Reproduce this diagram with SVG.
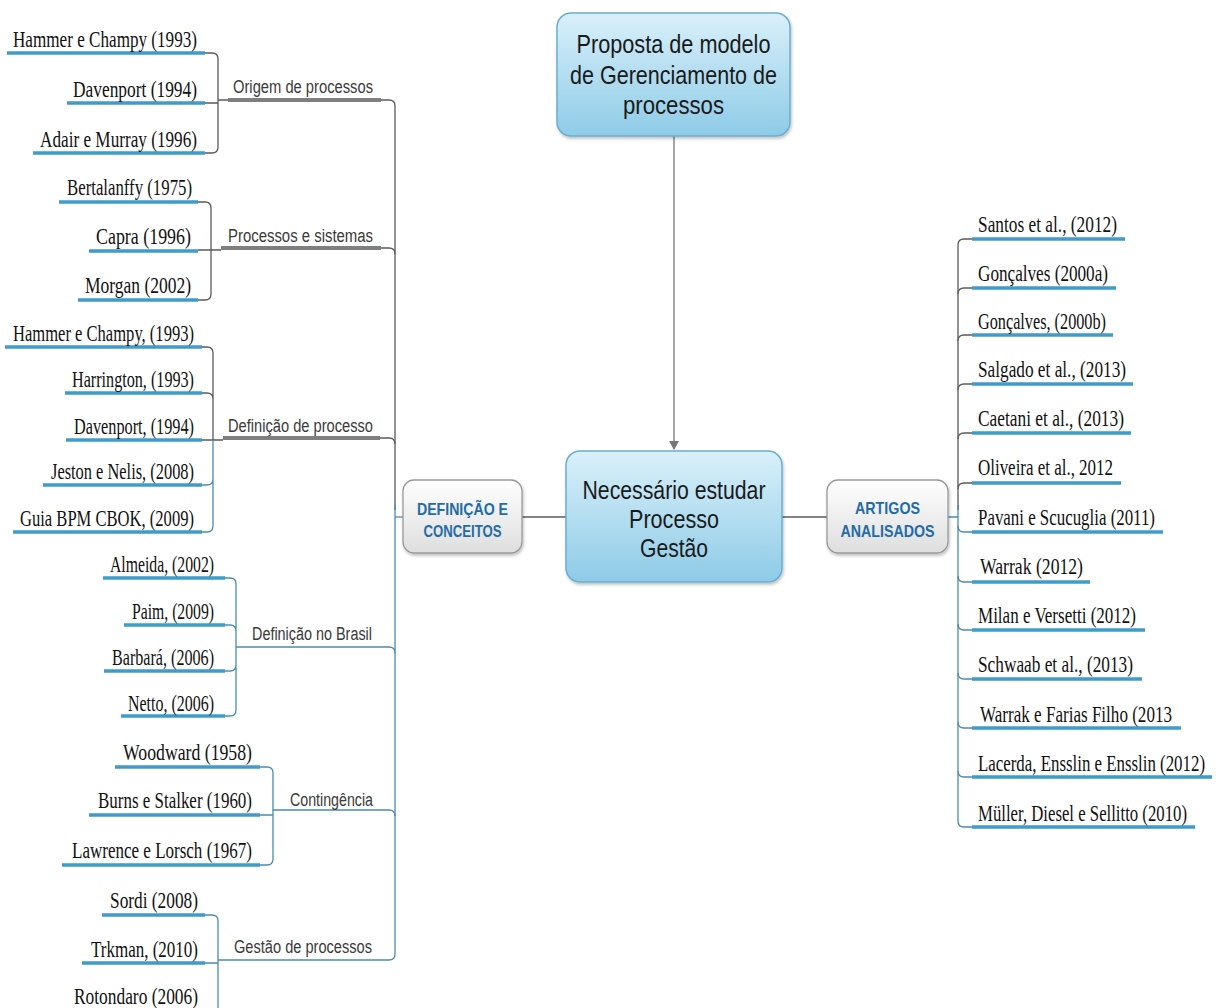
<svg xmlns="http://www.w3.org/2000/svg" width="1216" height="1008" viewBox="0 0 1216 1008">
<style>
.leaf{font-family:"Liberation Serif","Times New Roman",serif;font-size:24px;fill:#111}
.sub{font-family:"Liberation Sans",Arial,sans-serif;font-size:18px;fill:#3a3a3a}
.big{font-family:"Liberation Sans",Arial,sans-serif;font-size:26px;fill:#1a1a1a;text-anchor:middle}
.lbl{font-family:"Liberation Sans",Arial,sans-serif;font-size:17px;font-weight:bold;fill:#1f6ca8;text-anchor:middle}
.ul{stroke:#3e9ccb;stroke-width:3.5;fill:none}
.gr{stroke:#5a5a5a;stroke-width:1.3;fill:none}
.bl{stroke:#4a8cb2;stroke-width:1.3;fill:none}
.sul{stroke:#7f7f7f;stroke-width:4;fill:none}
.main{fill:url(#gBlue);stroke:#6aaed0;stroke-width:1.5;filter:url(#sh)}
.cat{fill:url(#gGray);stroke:#9a9a9a;stroke-width:1.3;filter:url(#sh)}
</style>
<defs>
<linearGradient id="gBlue" x1="0" y1="0" x2="0" y2="1"><stop offset="0" stop-color="#d9f0fa"/><stop offset="1" stop-color="#8ecbe7"/></linearGradient>
<linearGradient id="gGray" x1="0" y1="0" x2="0" y2="1"><stop offset="0" stop-color="#ffffff"/><stop offset="1" stop-color="#dedede"/></linearGradient>
<filter id="sh" x="-10%" y="-10%" width="130%" height="130%"><feDropShadow dx="1" dy="2" stdDeviation="1.5" flood-color="#000" flood-opacity="0.25"/></filter>
<marker id="arr" markerWidth="10" markerHeight="10" refX="8" refY="5" orient="auto" markerUnits="userSpaceOnUse"><path d="M0,0 L9,5 L0,10 Z" fill="#777"/></marker>
</defs>
<rect width="1216" height="1008" fill="#fff"/>

<g id="connectors">
  <path d="M674,136 V449" stroke="#888" stroke-width="1.5" fill="none" marker-end="url(#arr)"/>
  <path d="M522,517 H566" class="gr"/>
  <path d="M782,517 H827" class="gr"/>
  <path d="M381,100 H389 Q395,100 395,106 V510" class="gr"/>
  <path d="M381,248 H389 Q395,248 395,254" class="gr"/>
  <path d="M380,438 H389 Q395,438 395,444" class="gr"/>
  <path d="M395,505 V954 Q395,960 389,960 H218" class="bl"/>
  <path d="M395,517 H403" class="bl"/>
  <path d="M395,653 Q395,647 389,647 H236" class="bl"/>
  <path d="M395,816 Q395,810 389,810 H273" class="bl"/>
  <path d="M228,100 H381" class="sul"/>
  <path d="M221,248 H381" class="sul"/>
  <path d="M223,438 H380" class="sul"/>
  <path d="M205,53 H212 Q218,53 218,59 V147 Q218,153 212,153 H205 M205,103 H218 M218,100 H228" class="gr"/>
  <path d="M198,202 H205 Q211,202 211,208 V294 Q211,300 205,300 H198 M198,250 H221" class="gr"/>
  <path d="M202,347 H207 Q213,347 213,353 V440 M202,393 H207 Q213,393 213,399 M202,440 H223" class="gr"/>
  <path d="M213,440 V526 Q213,532 207,532 H202 M202,485 H207 Q213,485 213,479" class="bl"/>
  <path d="M225,578 H230 Q236,578 236,584 V710 Q236,716 230,716 H225 M225,625 H230 Q236,625 236,631 M225,671 H230 Q236,671 236,665" class="bl"/>
  <path d="M260,767 H267 Q273,767 273,773 V859 Q273,865 267,865 H260 M260,815 H273" class="bl"/>
  <path d="M205,915 H212 Q218,915 218,921 V1008 M205,963 H218" class="bl"/>
  <path d="M958,510 V245 Q958,239 964,239 H972" class="gr"/>
  <path d="M958,294 Q958,288 964,288 H972 M958,341 Q958,335 964,335 H972 M958,390 Q958,384 964,384 H972 M958,439 Q958,433 964,433 H972 M958,489 Q958,483 964,483 H972" class="gr"/>
  <path d="M948,517 H958 M958,505 V821 Q958,827 964,827 H972" class="bl"/>
  <path d="M958,526 Q958,532 964,532 H972 M958,576 Q958,582 964,582 H972 M958,624 Q958,630 964,630 H972 M958,673 Q958,679 964,679 H972 M958,722 Q958,728 964,728 H972 M958,771 Q958,777 964,777 H972" class="bl"/>
</g>

<g id="node-proposta">
  <rect x="557" y="13" width="233" height="123" rx="14" class="main"/>
  <text x="673.5" y="53" class="big" textLength="194" lengthAdjust="spacingAndGlyphs">Proposta de modelo</text>
  <text x="673.5" y="84" class="big" textLength="207" lengthAdjust="spacingAndGlyphs">de Gerenciamento de</text>
  <text x="673.5" y="114" class="big" textLength="101" lengthAdjust="spacingAndGlyphs">processos</text>
</g>
<g id="node-necessario">
  <rect x="566" y="451" width="216" height="131" rx="14" class="main"/>
  <text x="674" y="499" class="big" font-size="25" textLength="183" lengthAdjust="spacingAndGlyphs">Necessário estudar</text>
  <text x="674" y="528" class="big" font-size="25" textLength="90" lengthAdjust="spacingAndGlyphs">Processo</text>
  <text x="674" y="557" class="big" font-size="25" textLength="68" lengthAdjust="spacingAndGlyphs">Gestão</text>
</g>
<g id="node-definicao">
  <rect x="403" y="480" width="119" height="73" rx="11" class="cat"/>
  <text x="462.5" y="515" class="lbl" textLength="91" lengthAdjust="spacingAndGlyphs">DEFINIÇÃO E</text>
  <text x="462.5" y="537" class="lbl" textLength="78" lengthAdjust="spacingAndGlyphs">CONCEITOS</text>
</g>
<g id="node-artigos">
  <rect x="827" y="480" width="121" height="73" rx="11" class="cat"/>
  <text x="887.5" y="514" class="lbl" textLength="65" lengthAdjust="spacingAndGlyphs">ARTIGOS</text>
  <text x="887.5" y="537" class="lbl" textLength="94" lengthAdjust="spacingAndGlyphs">ANALISADOS</text>
</g>

<g id="node-origem">
  <text x="233" y="93" class="sub" textLength="140" lengthAdjust="spacingAndGlyphs">Origem de processos</text>
  <path d="M7,53 H205 M67,103 H205 M33,153 H205" class="ul"/>
  <text x="197" y="47" class="leaf" text-anchor="end" textLength="184" lengthAdjust="spacingAndGlyphs">Hammer e Champy (1993)</text>
  <text x="197" y="97" class="leaf" text-anchor="end" textLength="124" lengthAdjust="spacingAndGlyphs">Davenport (1994)</text>
  <text x="197" y="147" class="leaf" text-anchor="end" textLength="157" lengthAdjust="spacingAndGlyphs">Adair e Murray (1996)</text>
</g>
<g id="node-processos">
  <text x="228" y="242" class="sub" textLength="145" lengthAdjust="spacingAndGlyphs">Processos e sistemas</text>
  <path d="M59,202 H198 M89,251 H198 M78,300 H198" class="ul"/>
  <text x="192" y="195" class="leaf" text-anchor="end" textLength="125" lengthAdjust="spacingAndGlyphs">Bertalanffy (1975)</text>
  <text x="191" y="244" class="leaf" text-anchor="end" textLength="95" lengthAdjust="spacingAndGlyphs">Capra (1996)</text>
  <text x="191" y="293" class="leaf" text-anchor="end" textLength="106" lengthAdjust="spacingAndGlyphs">Morgan (2002)</text>
</g>
<g id="node-defprocesso">
  <text x="228" y="432" class="sub" textLength="145" lengthAdjust="spacingAndGlyphs">Definição de processo</text>
  <path d="M5,347 H202 M65,393 H202 M66,440 H202 M43,485 H202 M13,532 H202" class="ul"/>
  <text x="194" y="341" class="leaf" text-anchor="end" textLength="181" lengthAdjust="spacingAndGlyphs">Hammer e Champy, (1993)</text>
  <text x="194" y="387" class="leaf" text-anchor="end" textLength="122" lengthAdjust="spacingAndGlyphs">Harrington, (1993)</text>
  <text x="194" y="434" class="leaf" text-anchor="end" textLength="120" lengthAdjust="spacingAndGlyphs">Davenport, (1994)</text>
  <text x="194" y="479" class="leaf" text-anchor="end" textLength="143" lengthAdjust="spacingAndGlyphs">Jeston e Nelis, (2008)</text>
  <text x="194" y="526" class="leaf" text-anchor="end" textLength="174" lengthAdjust="spacingAndGlyphs">Guia BPM CBOK, (2009)</text>
</g>
<g id="node-brasil">
  <text x="252" y="640" class="sub" textLength="120" lengthAdjust="spacingAndGlyphs">Definição no Brasil</text>
  <path d="M103,578 H225 M124,625 H225 M104,671 H225 M121,716 H225" class="ul"/>
  <text x="214" y="572" class="leaf" text-anchor="end" textLength="104" lengthAdjust="spacingAndGlyphs">Almeida, (2002)</text>
  <text x="214" y="619" class="leaf" text-anchor="end" textLength="82" lengthAdjust="spacingAndGlyphs">Paim, (2009)</text>
  <text x="214" y="665" class="leaf" text-anchor="end" textLength="102" lengthAdjust="spacingAndGlyphs">Barbará, (2006)</text>
  <text x="214" y="711" class="leaf" text-anchor="end" textLength="86" lengthAdjust="spacingAndGlyphs">Netto, (2006)</text>
</g>
<g id="node-contingencia">
  <text x="290" y="806" class="sub" textLength="83" lengthAdjust="spacingAndGlyphs">Contingência</text>
  <path d="M115,767 H260 M89,815 H260 M62,865 H260" class="ul"/>
  <text x="252" y="760" class="leaf" text-anchor="end" textLength="129" lengthAdjust="spacingAndGlyphs">Woodward (1958)</text>
  <text x="252" y="808" class="leaf" text-anchor="end" textLength="154" lengthAdjust="spacingAndGlyphs">Burns e Stalker (1960)</text>
  <text x="252" y="858" class="leaf" text-anchor="end" textLength="180" lengthAdjust="spacingAndGlyphs">Lawrence e Lorsch (1967)</text>
</g>
<g id="node-gestao">
  <text x="234" y="953" class="sub" textLength="138" lengthAdjust="spacingAndGlyphs">Gestão de processos</text>
  <path d="M102,915 H205 M82,963 H205 M73,1012 H205" class="ul"/>
  <text x="198" y="908" class="leaf" text-anchor="end" textLength="88" lengthAdjust="spacingAndGlyphs">Sordi (2008)</text>
  <text x="198" y="957" class="leaf" text-anchor="end" textLength="107" lengthAdjust="spacingAndGlyphs">Trkman, (2010)</text>
  <text x="198" y="1004" class="leaf" text-anchor="end" textLength="124" lengthAdjust="spacingAndGlyphs">Rotondaro (2006)</text>
</g>

<g id="node-artigos-list">
  <path d="M972,239 H1125 M972,288 H1116 M972,335 H1113 M972,384 H1133 M972,433 H1131 M972,483 H1121 M972,532 H1163 M972,582 H1090 M972,630 H1145 M972,679 H1142 M972,728 H1181 M972,777 H1212 M972,827 H1195" class="ul"/>
  <text x="978" y="232" class="leaf" textLength="139" lengthAdjust="spacingAndGlyphs">Santos et al., (2012)</text>
  <text x="978" y="281" class="leaf" textLength="130" lengthAdjust="spacingAndGlyphs">Gonçalves (2000a)</text>
  <text x="978" y="329" class="leaf" textLength="128" lengthAdjust="spacingAndGlyphs">Gonçalves, (2000b)</text>
  <text x="978" y="377" class="leaf" textLength="148" lengthAdjust="spacingAndGlyphs">Salgado et al., (2013)</text>
  <text x="978" y="426" class="leaf" textLength="146" lengthAdjust="spacingAndGlyphs">Caetani et al., (2013)</text>
  <text x="978" y="475" class="leaf" textLength="135" lengthAdjust="spacingAndGlyphs">Oliveira et al., 2012</text>
  <text x="978" y="525" class="leaf" textLength="177" lengthAdjust="spacingAndGlyphs">Pavani e Scucuglia (2011)</text>
  <text x="980" y="574" class="leaf" textLength="103" lengthAdjust="spacingAndGlyphs">Warrak (2012)</text>
  <text x="978" y="623" class="leaf" textLength="158" lengthAdjust="spacingAndGlyphs">Milan e Versetti (2012)</text>
  <text x="978" y="672" class="leaf" textLength="155" lengthAdjust="spacingAndGlyphs">Schwaab et al., (2013)</text>
  <text x="980" y="722" class="leaf" textLength="192" lengthAdjust="spacingAndGlyphs">Warrak e Farias Filho (2013</text>
  <text x="978" y="771" class="leaf" textLength="227" lengthAdjust="spacingAndGlyphs">Lacerda, Ensslin e Ensslin (2012)</text>
  <text x="978" y="821" class="leaf" textLength="209" lengthAdjust="spacingAndGlyphs">Müller, Diesel e Sellitto (2010)</text>
</g>
</svg>
